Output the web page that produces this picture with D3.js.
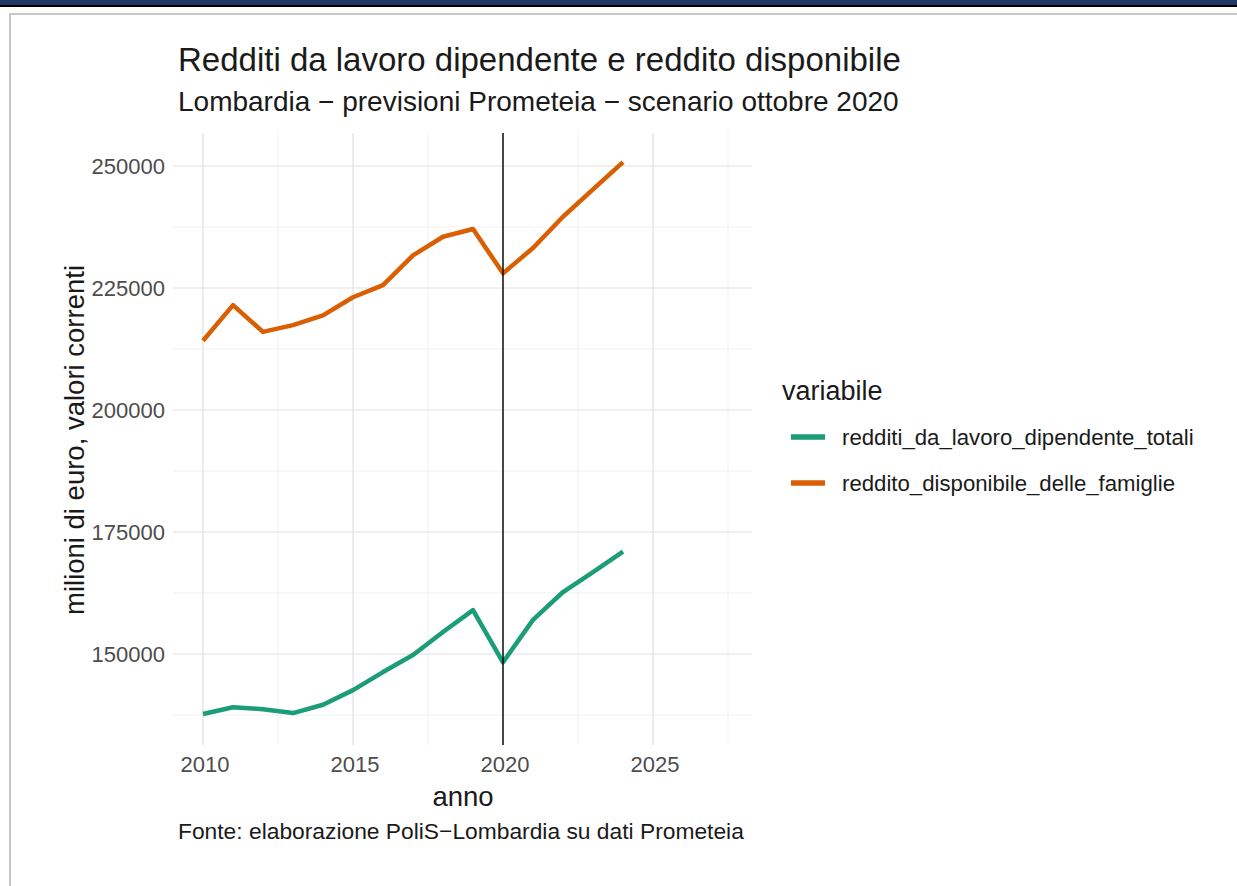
<!DOCTYPE html>
<html>
<head>
<meta charset="utf-8">
<script src="https://cdn.jsdelivr.net/npm/d3@7"></script>
<style>
  body { margin: 0; background: #fff; }
  svg { display: block; font-family: "Liberation Sans", Arial, sans-serif; }
</style>
</head>
<body>
<svg id="chart" width="1237" height="886"></svg>
<script>
const years = [2010, 2011, 2012, 2013, 2014, 2015, 2016, 2017, 2018, 2019, 2020, 2021, 2022, 2023, 2024];
const redditiLavoro = [137700, 139100, 138700, 137900, 139600, 142600, 146300, 149800, 154500, 159000, 148300, 157000, 162700, 166800, 171000];
const redditoDisponibile = [214200, 221500, 216000, 217400, 219400, 223100, 225600, 231700, 235500, 237100, 228000, 233200, 239600, 245200, 250800];
const seriesNames = ["redditi_da_lavoro_dipendente_totali", "reddito_disponibile_delle_famiglie"];
const seriesColors = ["#1b9e77", "#d95f02"];
const xTicks = [2010, 2015, 2020, 2025];
const xMinor = [2012.5, 2017.5, 2022.5, 2027.5];
const yTicks = [150000, 175000, 200000, 225000, 250000];
const yMinor = [137500, 162500, 187500, 212500, 237500];

const svg = d3.select("#chart");

// page frame
svg.append("rect").attr("x", 0).attr("y", 0).attr("width", 1237).attr("height", 5).attr("fill", "#1f3864");
svg.append("rect").attr("x", 0).attr("y", 5).attr("width", 1237).attr("height", 2).attr("fill", "#000");
svg.append("path").attr("d", "M10,886V14H1237").attr("fill", "none").attr("stroke", "#c8c8c8").attr("stroke-width", 2);

// panel
const panel = { left: 173, right: 752, top: 133, bottom: 745 };
const x = d3.scaleLinear().domain([2010, 2020]).range([203, 503]);
const y = d3.scaleLinear().domain([150000, 250000]).range([654, 166]);

const g = svg.append("g");

// grid
g.selectAll(".ygmin").data(yMinor).join("line")
    .attr("x1", panel.left).attr("x2", panel.right)
    .attr("y1", d => y(d)).attr("y2", d => y(d))
    .attr("stroke", "#ebebeb").attr("stroke-width", 0.7);
g.selectAll(".xgmin").data(xMinor).join("line")
    .attr("x1", d => x(d)).attr("x2", d => x(d))
    .attr("y1", panel.top).attr("y2", panel.bottom)
    .attr("stroke", "#ebebeb").attr("stroke-width", 0.7);
g.selectAll(".yg").data(yTicks).join("line")
    .attr("x1", panel.left).attr("x2", panel.right)
    .attr("y1", d => y(d)).attr("y2", d => y(d))
    .attr("stroke", "#e0e0e0").attr("stroke-width", 1.2);
g.selectAll(".xg").data(xTicks).join("line")
    .attr("x1", d => x(d)).attr("x2", d => x(d))
    .attr("y1", panel.top).attr("y2", panel.bottom)
    .attr("stroke", "#e0e0e0").attr("stroke-width", 1.2);

// tick labels
g.selectAll(".ylab").data(yTicks).join("text")
    .attr("x", 165).attr("y", d => y(d)).attr("dy", "0.36em")
    .attr("text-anchor", "end").attr("font-size", 22).attr("fill", "#4d4d4d")
    .text(d => d);
g.selectAll(".xlab").data(xTicks).join("text")
    .attr("x", d => x(d) + 2).attr("y", 772)
    .attr("text-anchor", "middle").attr("font-size", 22).attr("fill", "#4d4d4d")
    .text(d => d);

// lines
const line = d3.line().x((d, i) => x(years[i])).y(d => y(d));
[redditiLavoro, redditoDisponibile].forEach((s, k) => {
    g.append("path").datum(s)
        .attr("d", line)
        .attr("fill", "none")
        .attr("stroke", seriesColors[k])
        .attr("stroke-width", 4.5)
        .attr("stroke-linejoin", "round");
});

// vertical line at 2020
g.append("line")
    .attr("x1", x(2020)).attr("x2", x(2020))
    .attr("y1", panel.top).attr("y2", panel.bottom)
    .attr("stroke", "#000").attr("stroke-width", 1.4);

// titles
svg.append("text").attr("x", 178).attr("y", 71).attr("font-size", 33).attr("fill", "#1a1a1a")
    .text("Redditi da lavoro dipendente e reddito disponibile");
svg.append("text").attr("x", 178).attr("y", 111).attr("font-size", 28).attr("fill", "#1a1a1a")
    .text("Lombardia \u2212 previsioni Prometeia \u2212 scenario ottobre 2020");
svg.append("text").attr("x", 463).attr("y", 806).attr("text-anchor", "middle").attr("font-size", 27.5).attr("fill", "#1a1a1a")
    .text("anno");
svg.append("text").attr("transform", "translate(84,440) rotate(-90)").attr("text-anchor", "middle")
    .attr("font-size", 27.5).attr("fill", "#1a1a1a")
    .text("milioni di euro, valori correnti");
svg.append("text").attr("x", 178).attr("y", 839).attr("font-size", 22.8).attr("fill", "#1a1a1a")
    .text("Fonte: elaborazione PoliS\u2212Lombardia su dati Prometeia");

// legend
const legend = svg.append("g");
legend.append("text").attr("x", 782).attr("y", 400).attr("font-size", 27).attr("fill", "#1a1a1a").text("variabile");
seriesNames.forEach((name, k) => {
    const ly = 437 + k * 46;
    legend.append("line").attr("x1", 791).attr("x2", 825).attr("y1", ly).attr("y2", ly)
        .attr("stroke", seriesColors[k]).attr("stroke-width", 5.5);
    legend.append("text").attr("x", 842).attr("y", ly).attr("dy", "0.35em")
        .attr("font-size", 22.2).attr("fill", "#1a1a1a").text(name);
});
</script>
</body>
</html>
